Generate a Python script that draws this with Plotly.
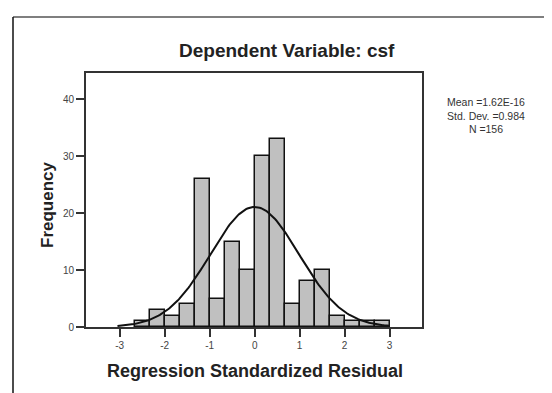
import numpy as np
import plotly.graph_objects as go

# Histogram data (bins of width 1/3 from -8/3 to 3)
bin_centers = [-2.5, -2.1667, -1.8333, -1.5, -1.1667, -0.8333, -0.5, -0.1667,
               0.1667, 0.5, 0.8333, 1.1667, 1.5, 1.8333, 2.1667, 2.5, 2.8333]
frequencies = [1, 3, 2, 4, 26, 5, 15, 10, 30, 33, 4, 8, 10, 2, 1, 1, 1]
bin_width = 1 / 3

# Stated summary statistics
stat_mean = 1.62e-16
stat_sd = 0.984
stat_n = 156
stat_lines = ["Mean =1.62E-16", "Std. Dev. =0.984", "N =156"]

x_ticks = [-3, -2, -1, 0, 1, 2, 3]
y_ticks = [0, 10, 20, 30, 40]

# Fitted normal curve from the stated statistics
curve_x = np.linspace(-3.05, 3.0, 200)
curve_y = stat_n * bin_width * np.exp(-0.5 * ((curve_x - stat_mean) / stat_sd) ** 2) / (stat_sd * np.sqrt(2 * np.pi))

FONT = "Liberation Sans, Arial, sans-serif"

fig = go.Figure()
fig.add_trace(go.Bar(
    x=bin_centers, y=frequencies, width=bin_width,
    marker=dict(color="#c0c0c0", line=dict(color="#111111", width=1.5)),
    showlegend=False, hoverinfo="skip"))
fig.add_trace(go.Scatter(
    x=curve_x, y=curve_y, mode="lines",
    line=dict(color="#111111", width=2), showlegend=False, hoverinfo="skip"))

W, H = 552, 393
ml, mr, mt, mb = 78, 138, 65, 74
pw, ph = W - ml - mr, H - mt - mb

def px(xpix):
    return (xpix - ml) / pw

def py(ypix):
    return (H - mb - ypix) / ph

fig.update_layout(
    width=W, height=H, autosize=False,
    margin=dict(l=ml, r=mr, t=mt, b=mb, pad=0),
    paper_bgcolor="white", plot_bgcolor="white",
    font=dict(family=FONT, color="#222"),
    bargap=0,
    xaxis=dict(range=[-3.75, 3.72], tickvals=x_ticks, ticktext=[str(v) for v in x_ticks],
               showgrid=False, zeroline=False, showline=True, mirror=True,
               linecolor="#333", linewidth=2, ticks="outside", ticklen=8,
               tickwidth=1.5, tickcolor="#333",
               tickfont=dict(size=10, color="#444", family=FONT)),
    yaxis=dict(range=[0, 44.6], tickvals=y_ticks, ticktext=[str(v) for v in y_ticks],
               showgrid=False, zeroline=False, showline=True, mirror=True,
               linecolor="#333", linewidth=2, ticks="outside", ticklen=8,
               tickwidth=1.5, tickcolor="#333",
               tickfont=dict(size=10, color="#444", family=FONT)),
)

annotations = [
    dict(text="<b>Dependent Variable: csf</b>", x=px(279), y=py(43),
         font=dict(size=19, color="#222", family=FONT)),
    dict(text="<b>Regression Standardized Residual</b>", x=px(247), y=py(363),
         font=dict(size=18, color="#222", family=FONT)),
    dict(text="<b>Frequency</b>", x=px(39), y=py(197), textangle=-90,
         font=dict(size=17, color="#222", family=FONT)),
    dict(text="<br>".join(stat_lines), x=px(478), y=py(107), align="center",
         font=dict(size=10.5, color="#333", family=FONT)),
]
for a in annotations:
    a.update(xref="paper", yref="paper", xanchor="center", yanchor="middle", showarrow=False)
fig.update_layout(annotations=annotations)

# Outer border (partly visible at top and left)
fig.add_shape(type="line", xref="paper", yref="paper",
              x0=px(5), x1=px(560), y0=py(9), y1=py(9),
              line=dict(color="#555", width=1.5))
fig.add_shape(type="line", xref="paper", yref="paper",
              x0=px(5), x1=px(5), y0=py(9), y1=py(400),
              line=dict(color="#111", width=1.5))

fig.write_html("out.html")
